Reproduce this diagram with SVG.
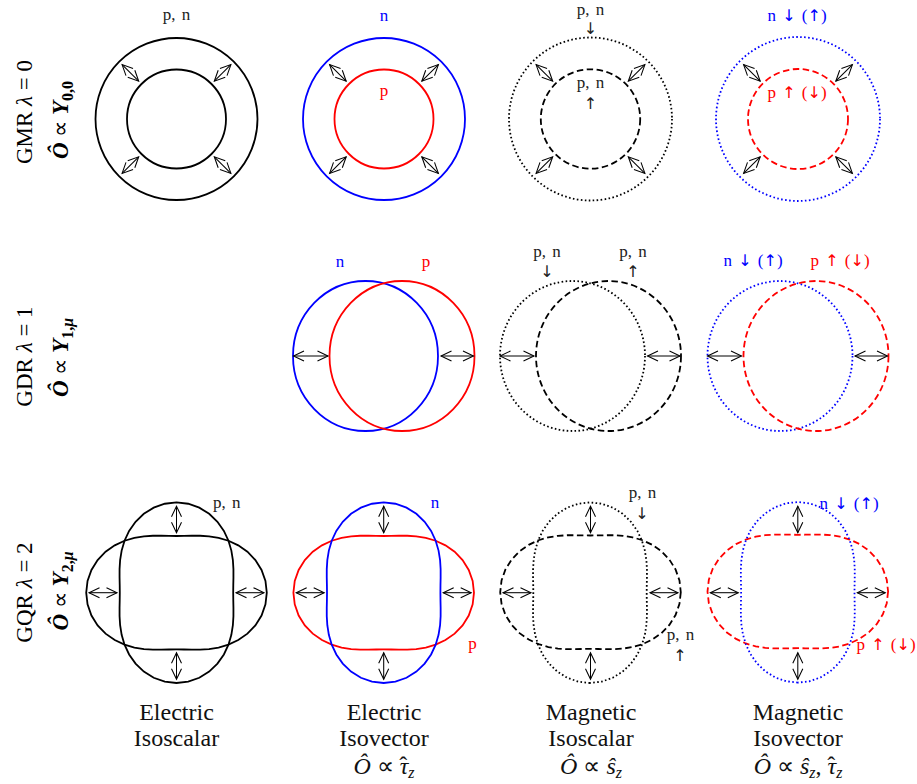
<svg xmlns="http://www.w3.org/2000/svg" xmlns:xlink="http://www.w3.org/1999/xlink" width="917" height="784" viewBox="0 0 917 784">
<style>
.s{fill:none;stroke-width:1.8}
.k{stroke:#000}.b{stroke:#00f}.r{stroke:#f00}
.dash{stroke-dasharray:6.5 3.5}
.dot{stroke-dasharray:1.6 2.4}
.arr{fill:none;stroke:#000;stroke-width:1.05;marker-start:url(#ah);marker-end:url(#ah)}
.t{font-family:'Liberation Serif',serif;font-size:17px;word-spacing:2px}
.ar{font-family:'DejaVu Sans',sans-serif;font-size:16px}
.tk{fill:#222}.tb{fill:#00f}.tr{fill:#f00}
.big{font-family:'Liberation Serif',serif;font-size:23px}
.bot{font-family:'Liberation Serif',serif;font-size:24px;fill:#111;text-anchor:middle}
.m{text-anchor:middle}
.it{font-style:italic}
.bi{font-style:italic;font-weight:bold}
</style>
<defs>
<marker id="ah" viewBox="-12 -7 14 14" refX="0" refY="0" markerWidth="14" markerHeight="14" markerUnits="userSpaceOnUse" orient="auto-start-reverse">
<path d="M-10.5,-5 L0,0 L-10.5,5" fill="none" stroke="#000" stroke-width="1.05"/>
</marker>
<path id="lobe" d="M90.3,0 L88.96,11.71 85.05,22.79 78.88,32.67 70.93,40.95 61.76,47.39 51.97,51.97 42.1,54.86 32.55,56.38 23.58,56.93 15.26,56.94 7.48,56.78 0,56.7 -7.48,56.78 -15.26,56.94 -23.58,56.93 -32.55,56.38 -42.1,54.86 -51.97,51.97 -61.76,47.39 -70.93,40.95 -78.88,32.67 -85.05,22.79 -88.96,11.71 -90.3,0 -88.96,-11.71 -85.05,-22.79 -78.88,-32.67 -70.93,-40.95 -61.76,-47.39 -51.97,-51.97 -42.1,-54.86 -32.55,-56.38 -23.58,-56.93 -15.26,-56.94 -7.48,-56.78 0,-56.7 7.48,-56.78 15.26,-56.94 23.58,-56.93 32.55,-56.38 42.1,-54.86 51.97,-51.97 61.76,-47.39 70.93,-40.95 78.88,-32.67 85.05,-22.79 88.96,-11.71 Z"/>
</defs>
<rect width="917" height="784" fill="#fff"/>

<!-- Row labels -->
<g id="row-labels">
<text class="big m" transform="translate(32,112) rotate(-90)">GMR <tspan class="it">λ</tspan> = 0</text>
<text class="big m" transform="translate(68,120) rotate(-90)"><tspan class="bi">Ô</tspan> ∝ <tspan class="bi">Y</tspan><tspan font-size="16" font-weight="bold" dy="5">0,0</tspan></text>
<text class="big m" transform="translate(32,356.5) rotate(-90)">GDR <tspan class="it">λ</tspan> = 1</text>
<text class="big m" transform="translate(68,357.5) rotate(-90)"><tspan class="bi">Ô</tspan> ∝ <tspan class="bi">Y</tspan><tspan font-size="16" font-weight="bold" dy="5">1,<tspan font-style="italic">μ</tspan></tspan></text>
<text class="big m" transform="translate(32,592.5) rotate(-90)">GQR <tspan class="it">λ</tspan> = 2</text>
<text class="big m" transform="translate(68,591) rotate(-90)"><tspan class="bi">Ô</tspan> ∝ <tspan class="bi">Y</tspan><tspan font-size="16" font-weight="bold" dy="5">2,<tspan font-style="italic">μ</tspan></tspan></text>
</g>

<!-- Row 1 -->
<g id="r1c1">
<circle class="s k" cx="176.5" cy="119" r="81"/>
<circle class="s k" cx="176.5" cy="119" r="49.5"/>
<text class="t tk m" x="176.5" y="20">p, n</text>
</g>
<g id="r1c2">
<circle class="s b" cx="384" cy="119" r="81"/>
<circle class="s r" cx="384" cy="119" r="49.5"/>
<text class="t tb m" x="384" y="20.5">n</text>
<text class="t tr m" x="384" y="96">p</text>
</g>
<g id="r1c3">
<circle class="s k dot" cx="590.5" cy="119" r="81.5"/>
<circle class="s k dash" cx="590.5" cy="119" r="49.7"/>
<text class="t tk m" x="590.5" y="15" font-size="16">p, n</text>
<text class="ar tk m" x="590.5" y="34">↓︎</text>
<text class="t tk m" x="590.5" y="88">p, n</text>
<text class="ar tk m" x="590.5" y="109">↑︎</text>
</g>
<g id="r1c4">
<circle class="s b dot" cx="798" cy="119" r="82"/>
<circle class="s r dash" cx="798" cy="119" r="50"/>
<text class="t tb m" x="797" y="21">n <tspan class="ar">↓︎</tspan> (<tspan class="ar">↑︎</tspan>)</text>
<text class="t tr m" x="797" y="98">p <tspan class="ar">↑︎</tspan> (<tspan class="ar">↓︎</tspan>)</text>
</g>

<!-- Row 2 -->
<g id="r2c2">
<ellipse class="s b" cx="365.5" cy="356" rx="72.5" ry="75"/>
<ellipse class="s r" cx="402" cy="356" rx="72.5" ry="75"/>
<text class="t tb m" x="340" y="267">n</text>
<text class="t tr m" x="426" y="267">p</text>
</g>
<g id="r2c3">
<ellipse class="s k dot" cx="572.5" cy="356" rx="72.5" ry="75"/>
<ellipse class="s k dash" cx="608.5" cy="356" rx="72.5" ry="75"/>
<text class="t tk m" x="547" y="257">p, n</text>
<text class="ar tk m" x="547" y="277">↓︎</text>
<text class="t tk m" x="633" y="257">p, n</text>
<text class="ar tk m" x="633" y="277">↑︎</text>
</g>
<g id="r2c4">
<ellipse class="s b dot" cx="780" cy="356" rx="72.5" ry="75"/>
<ellipse class="s r dash" cx="816" cy="356" rx="72.5" ry="75"/>
<text class="t tb m" x="753" y="266">n <tspan class="ar">↓︎</tspan> (<tspan class="ar">↑︎</tspan>)</text>
<text class="t tr m" x="840" y="266">p <tspan class="ar">↑︎</tspan> (<tspan class="ar">↓︎</tspan>)</text>
</g>

<!-- Row 3 -->
<g id="r3c1">
<use xlink:href="#lobe" class="s k" transform="translate(176.5,592.7)"/>
<use xlink:href="#lobe" class="s k" transform="translate(176.5,592.7) rotate(90)"/>
<text class="t tk" x="213" y="508">p, n</text>
</g>
<g id="r3c2">
<use xlink:href="#lobe" class="s r" transform="translate(383.7,592.7)"/>
<use xlink:href="#lobe" class="s b" transform="translate(383.7,592.7) rotate(90)"/>
<text class="t tb m" x="435" y="508">n</text>
<text class="t tr m" x="472.5" y="649">p</text>
</g>
<g id="r3c3">
<use xlink:href="#lobe" class="s k dash" transform="translate(590.5,592.2)"/>
<use xlink:href="#lobe" class="s k dot" transform="translate(590,592.7) rotate(90)"/>
<text class="t tk m" x="642.5" y="498">p, n</text>
<text class="ar tk m" x="642" y="519">↓︎</text>
<text class="t tk m" x="680.5" y="640">p, n</text>
<text class="ar tk m" x="680" y="661">↑︎</text>
</g>
<g id="r3c4">
<use xlink:href="#lobe" class="s r dash" transform="translate(797.8,591.5)"/>
<use xlink:href="#lobe" class="s b dot" transform="translate(797.8,592.3) rotate(90)"/>
<text class="t tb m" x="849" y="509">n <tspan class="ar">↓︎</tspan> (<tspan class="ar">↑︎</tspan>)</text>
<text class="t tr m" x="886" y="650">p <tspan class="ar">↑︎</tspan> (<tspan class="ar">↓︎</tspan>)</text>
</g>

<!-- Connectors: double arrows -->
<g id="connectors">
<line class="arr" x1="122.1" y1="64.6" x2="138.7" y2="81.2"/>
<line class="arr" x1="230.9" y1="64.6" x2="214.3" y2="81.2"/>
<line class="arr" x1="122.1" y1="173.4" x2="138.7" y2="156.8"/>
<line class="arr" x1="230.9" y1="173.4" x2="214.3" y2="156.8"/>
<line class="arr" x1="329.6" y1="64.6" x2="346.2" y2="81.2"/>
<line class="arr" x1="438.4" y1="64.6" x2="421.8" y2="81.2"/>
<line class="arr" x1="329.6" y1="173.4" x2="346.2" y2="156.8"/>
<line class="arr" x1="438.4" y1="173.4" x2="421.8" y2="156.8"/>
<line class="arr" x1="536.1" y1="64.6" x2="552.7" y2="81.2"/>
<line class="arr" x1="644.9" y1="64.6" x2="628.3" y2="81.2"/>
<line class="arr" x1="536.1" y1="173.4" x2="552.7" y2="156.8"/>
<line class="arr" x1="644.9" y1="173.4" x2="628.3" y2="156.8"/>
<line class="arr" x1="743.6" y1="64.6" x2="760.2" y2="81.2"/>
<line class="arr" x1="852.4" y1="64.6" x2="835.8" y2="81.2"/>
<line class="arr" x1="743.6" y1="173.4" x2="760.2" y2="156.8"/>
<line class="arr" x1="852.4" y1="173.4" x2="835.8" y2="156.8"/>

<line class="arr" x1="293.5" y1="356" x2="328" y2="356"/>
<line class="arr" x1="441" y1="356" x2="473.5" y2="356"/>
<line class="arr" x1="500" y1="356" x2="534" y2="356"/>
<line class="arr" x1="647.5" y1="356" x2="680" y2="356"/>
<line class="arr" x1="707.5" y1="356" x2="741.5" y2="356"/>
<line class="arr" x1="855" y1="356" x2="887.5" y2="356"/>

<line class="arr" x1="176.5" y1="506.2" x2="176.5" y2="532.7"/>
<line class="arr" x1="176.5" y1="652.7" x2="176.5" y2="679.2"/>
<line class="arr" x1="89" y1="592.7" x2="117" y2="592.7"/>
<line class="arr" x1="236" y1="592.7" x2="264" y2="592.7"/>
<line class="arr" x1="383.7" y1="506.2" x2="383.7" y2="532.7"/>
<line class="arr" x1="383.7" y1="652.7" x2="383.7" y2="679.2"/>
<line class="arr" x1="296.2" y1="592.7" x2="324.2" y2="592.7"/>
<line class="arr" x1="443.2" y1="592.7" x2="471.2" y2="592.7"/>
<line class="arr" x1="590.5" y1="506.2" x2="590.5" y2="532.7"/>
<line class="arr" x1="590.5" y1="652.7" x2="590.5" y2="679.2"/>
<line class="arr" x1="503" y1="592.7" x2="531" y2="592.7"/>
<line class="arr" x1="650" y1="592.7" x2="678" y2="592.7"/>
<line class="arr" x1="797.8" y1="506.2" x2="797.8" y2="532.7"/>
<line class="arr" x1="797.8" y1="652.7" x2="797.8" y2="679.2"/>
<line class="arr" x1="710.3" y1="592.7" x2="738.3" y2="592.7"/>
<line class="arr" x1="857.3" y1="592.7" x2="885.3" y2="592.7"/>
</g>

<!-- Column labels -->
<g id="col-labels">
<text class="bot" x="176.5" y="720">Electric</text>
<text class="bot" x="176.5" y="746">Isoscalar</text>
<text class="bot" x="384" y="720">Electric</text>
<text class="bot" x="384" y="746">Isovector</text>
<text class="bot" x="384" y="774"><tspan class="it">Ô</tspan> ∝ <tspan class="it">τ</tspan><tspan dx="-9" dy="-1">ˆ</tspan><tspan class="it" font-size="16" dx="1" dy="5">z</tspan></text>
<text class="bot" x="591" y="720">Magnetic</text>
<text class="bot" x="591" y="746">Isoscalar</text>
<text class="bot" x="591" y="774"><tspan class="it">Ô</tspan> ∝ <tspan class="it">ŝ</tspan><tspan class="it" font-size="16" dy="4">z</tspan></text>
<text class="bot" x="798" y="720">Magnetic</text>
<text class="bot" x="798" y="746">Isovector</text>
<text class="bot" x="798" y="774"><tspan class="it">Ô</tspan> ∝ <tspan class="it">ŝ</tspan><tspan class="it" font-size="16" dy="4">z</tspan><tspan dy="-4">, </tspan><tspan class="it">τ</tspan><tspan dx="-9" dy="-1">ˆ</tspan><tspan class="it" font-size="16" dx="1" dy="5">z</tspan></text>
</g>
</svg>
